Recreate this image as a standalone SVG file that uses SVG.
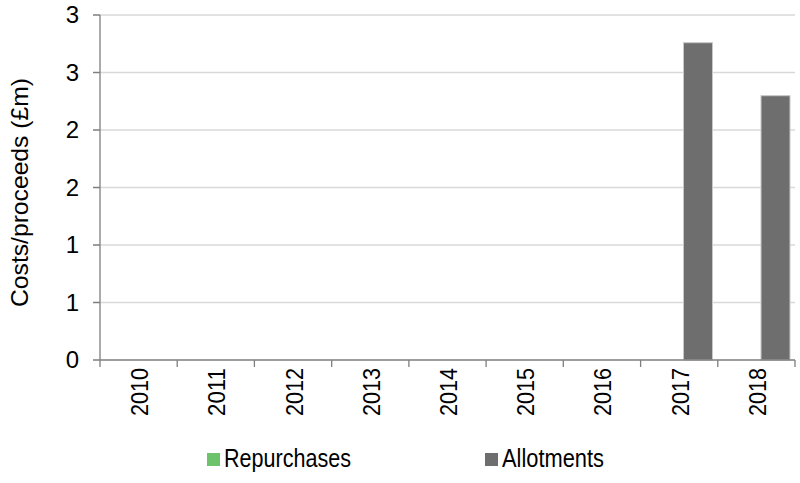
<svg xmlns="http://www.w3.org/2000/svg" width="800" height="483" viewBox="0 0 800 483">
<style>
text{font-family:"Liberation Sans",Arial,sans-serif;fill:#000}
.grid{stroke:#d9d9d9;stroke-width:1.3}
.axis{stroke:#7f7f7f;stroke-width:1.3;fill:none}
.yl{font-size:24px;text-anchor:end}
.xl{font-size:24px;text-anchor:end}
.bar{fill:#6e6e6e;stroke:#c8c8c8;stroke-width:1}
.lg{font-size:25px}
</style>
<rect width="800" height="483" fill="#fff"/>
<g id="grid">
<line class="grid" x1="100" y1="15" x2="795" y2="15"/>
<line class="grid" x1="100" y1="72.5" x2="795" y2="72.5"/>
<line class="grid" x1="100" y1="130" x2="795" y2="130"/>
<line class="grid" x1="100" y1="187.5" x2="795" y2="187.5"/>
<line class="grid" x1="100" y1="245" x2="795" y2="245"/>
<line class="grid" x1="100" y1="302.5" x2="795" y2="302.5"/>
</g>
<g id="bars">
<rect class="bar" x="683.5" y="42.7" width="29" height="317.3"/>
<rect class="bar" x="761" y="95.7" width="29" height="264.3"/>
</g>
<g id="axes">
<path class="axis" d="M100,15V367M93,15H100M93,72.5H100M93,130H100M93,187.5H100M93,245H100M93,302.5H100M93,360H795"/>
<path class="axis" d="M177.2,360V367M254.4,360V367M331.7,360V367M408.9,360V367M486.1,360V367M563.3,360V367M640.6,360V367M717.8,360V367M795,360V367"/>
</g>
<g id="ylabels">
<text class="yl" x="79" y="23">3</text>
<text class="yl" x="79" y="80.5">3</text>
<text class="yl" x="79" y="138">2</text>
<text class="yl" x="79" y="195.5">2</text>
<text class="yl" x="79" y="253">1</text>
<text class="yl" x="79" y="310.5">1</text>
<text class="yl" x="79" y="368">0</text>
</g>
<text id="ytitle" x="0" y="0" font-size="24" text-anchor="middle" textLength="229" lengthAdjust="spacingAndGlyphs" transform="translate(28,192.5) rotate(-90)">Costs/proceeds (£m)</text>
<g id="xlabels">
<text class="xl" textLength="48" lengthAdjust="spacingAndGlyphs" transform="translate(148.1,368) rotate(-90)">2010</text>
<text class="xl" textLength="48" lengthAdjust="spacingAndGlyphs" transform="translate(225.3,368) rotate(-90)">2011</text>
<text class="xl" textLength="48" lengthAdjust="spacingAndGlyphs" transform="translate(302.5,368) rotate(-90)">2012</text>
<text class="xl" textLength="48" lengthAdjust="spacingAndGlyphs" transform="translate(379.8,368) rotate(-90)">2013</text>
<text class="xl" textLength="48" lengthAdjust="spacingAndGlyphs" transform="translate(457,368) rotate(-90)">2014</text>
<text class="xl" textLength="48" lengthAdjust="spacingAndGlyphs" transform="translate(534.2,368) rotate(-90)">2015</text>
<text class="xl" textLength="48" lengthAdjust="spacingAndGlyphs" transform="translate(611.4,368) rotate(-90)">2016</text>
<text class="xl" textLength="48" lengthAdjust="spacingAndGlyphs" transform="translate(688.7,368) rotate(-90)">2017</text>
<text class="xl" textLength="48" lengthAdjust="spacingAndGlyphs" transform="translate(765.9,368) rotate(-90)">2018</text>
</g>
<g id="legend">
<rect x="207" y="453" width="13" height="13" fill="#6cc36b"/>
<text class="lg" x="224" y="467" textLength="127" lengthAdjust="spacingAndGlyphs">Repurchases</text>
<rect x="485" y="453" width="13" height="13" fill="#6e6e6e"/>
<text class="lg" x="502" y="467" textLength="102" lengthAdjust="spacingAndGlyphs">Allotments</text>
</g>
</svg>
